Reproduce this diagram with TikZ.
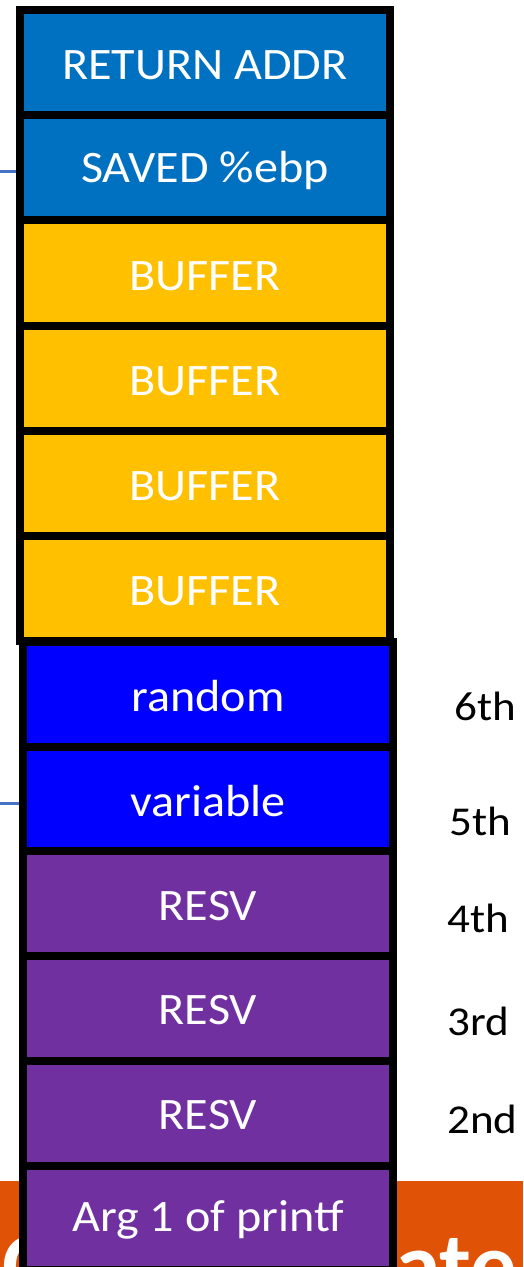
\documentclass[tikz,border=0pt]{standalone}
\usepackage{fontspec}
\setmainfont{Carlito}
\definecolor{cblue}{HTML}{0070C0}
\definecolor{cgold}{HTML}{FFC000}
\definecolor{cpure}{HTML}{0000FF}
\definecolor{cpurp}{HTML}{7030A0}
\definecolor{corange}{HTML}{E05206}
\definecolor{cline}{HTML}{4472C4}
\newcommand\boxtxt[1]{\scalebox{1.07}[1]{#1}}
\newcommand\labtxt[1]{\scalebox{1.1}[1]{#1}}
\tikzset{
  cell/.style={draw=black, line width=8pt},
  celltext/.style={text=white, font=\fontsize{45}{45}\selectfont},
  lab/.style={anchor=base west, inner sep=0pt, text=black, font=\fontsize{41}{41}\selectfont},
  banner/.style={anchor=base west, inner sep=0pt, text=white, font=\bfseries\fontsize{92}{92}\selectfont},
  lead/.style={draw=cline, line width=3pt}
}
\begin{document}
\begin{tikzpicture}[x=1pt,y=-1pt]
\useasboundingbox (0,0) rectangle (523,1267);
\begin{scope}
\clip (0,0) rectangle (523,1267);
% orange banner
\fill[corange] (0,1181) rectangle (523,1267);
\node[banner] (bannerC) at (2,1296) {C};
\node[banner] (bannerAte) at (395,1296) {ate};
% top group
\foreach \i/\c/\t in {0/cblue/RETURN ADDR,1/cblue/SAVED \%ebp,2/cgold/BUFFER,3/cgold/BUFFER,4/cgold/BUFFER,5/cgold/BUFFER}{
  \path[cell, fill=\c] (20,{10+105.2*\i}) rectangle (390,{10+105.2*(\i+1)});
  \node[celltext] (t\i) at (205,{13+105.2*(\i+0.5)}) {\boxtxt{\t}};
}
% bottom group
\foreach \i/\c/\t in {0/cpure/random,1/cpure/variable,2/cpurp/RESV,3/cpurp/RESV,4/cpurp/RESV,5/cpurp/Arg 1 of printf}{
  \path[cell, fill=\c] (23,{642+104.7*\i}) rectangle (393,{642+104.7*(\i+1)});
  \node[celltext] (b\i) at (208,{644+104.7*(\i+0.5)}) {\boxtxt{\t}};
}
\end{scope}
% leads
\coordinate (l1) at (0,171);
\coordinate (e1) at (16,171);
\coordinate (l2) at (0,803);
\coordinate (e2) at (19,803);
\draw[lead] (l1) -- (e1);
\draw[lead] (l2) -- (e2);
% labels
\node[lab] (n6) at (454,720) {\labtxt{6th}};
\node[lab] (n5) at (449,835) {\labtxt{5th}};
\node[lab] (n4) at (447,932) {\labtxt{4th}};
\node[lab] (n3) at (447,1035) {\labtxt{3rd}};
\node[lab] (n2) at (447,1133) {\labtxt{2nd}};
\end{tikzpicture}
\end{document}
